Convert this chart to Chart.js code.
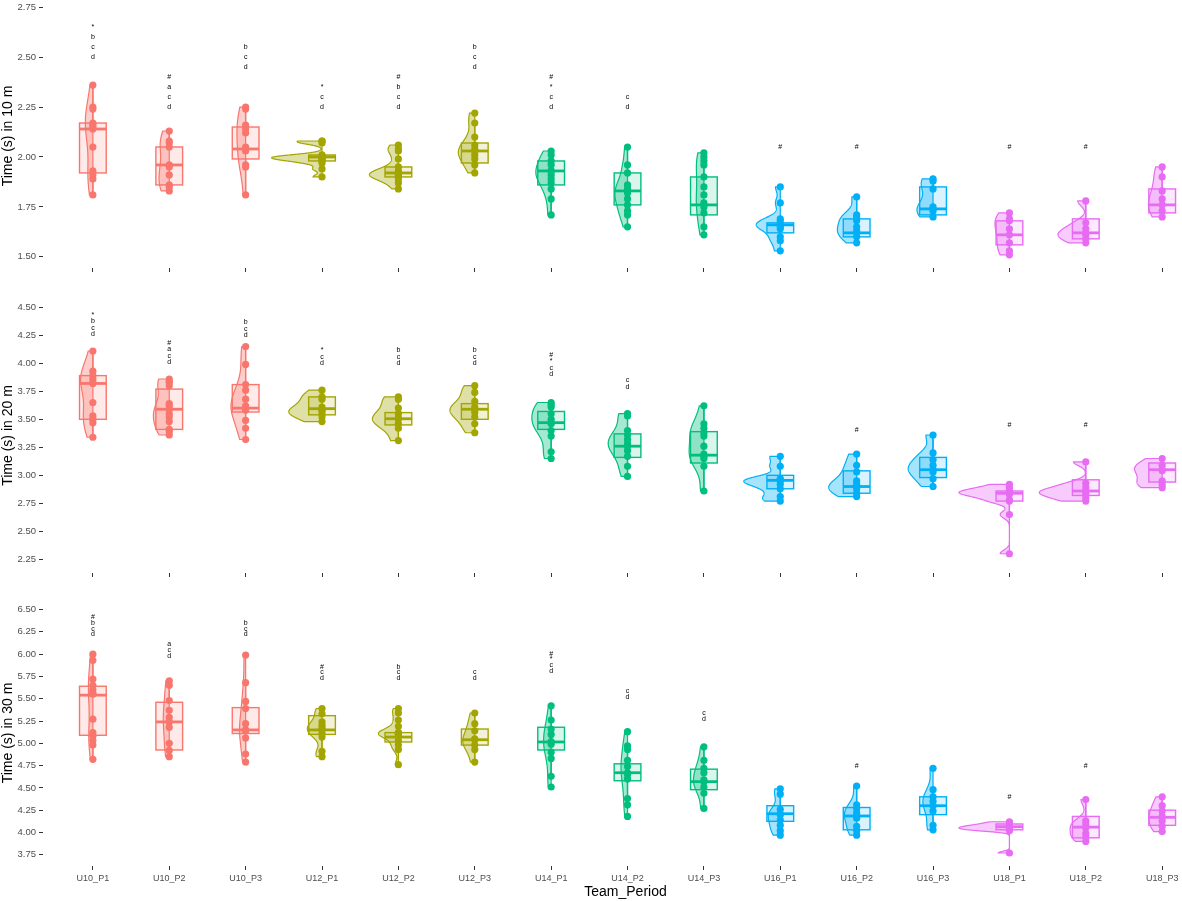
<!DOCTYPE html>
<html>
<head>
<meta charset="utf-8">
<title>Sprint times by team and period</title>
<script src="https://cdn.jsdelivr.net/npm/chart.js@4.4.1/dist/chart.umd.min.js"></script>
<style>
    html, body { margin: 0; padding: 0; background: #fff; }
    body { width: 1182px; height: 901px; overflow: hidden; position: relative; }
    .panel { position: absolute; left: 0; width: 1212px; }
</style>
</head>
<body>
<div class="panel" style="top:0;height:288px"><canvas id="chart10"></canvas></div>
<div class="panel" style="top:288px;height:302px"><canvas id="chart20"></canvas></div>
<div class="panel" style="top:590px;height:311px"><canvas id="chart30"></canvas></div>
<script>
// Categories and colours (one colour per team)
const categories = ['U10_P1', 'U10_P2', 'U10_P3', 'U12_P1', 'U12_P2', 'U12_P3', 'U14_P1', 'U14_P2', 'U14_P3',
    'U16_P1', 'U16_P2', 'U16_P3', 'U18_P1', 'U18_P2', 'U18_P3'];
const teamColors = ['#F8766D', '#A3A500', '#00BF7D', '#00B0F6', '#E76BF3'];

// 10 m times
const t10Points = [
    [2.36, 2.25, 2.24, 2.17, 2.16, 2.15, 2.14, 2.05, 1.93, 1.91, 1.89, 1.81],
    [2.13, 2.08, 2.07, 2.05, 1.96, 1.95, 1.91, 1.86, 1.85, 1.83],
    [2.25, 2.24, 2.16, 2.14, 2.12, 2.05, 2.03, 1.96, 1.95, 1.81],
    [2.08, 2.08, 2.07, 2.01, 2.00, 2.00, 2.00, 1.99, 1.99, 1.98, 1.97, 1.94, 1.90],
    [2.06, 2.04, 2.03, 1.99, 1.95, 1.93, 1.92, 1.92, 1.91, 1.91, 1.91, 1.90, 1.89, 1.87, 1.84],
    [2.22, 2.17, 2.10, 2.06, 2.04, 2.03, 2.01, 1.99, 1.96, 1.92],
    [2.03, 2.01, 1.98, 1.96, 1.93, 1.93, 1.91, 1.89, 1.87, 1.84, 1.79, 1.71],
    [2.05, 1.96, 1.92, 1.86, 1.84, 1.83, 1.82, 1.79, 1.76, 1.73, 1.71, 1.65],
    [2.02, 2.00, 1.98, 1.96, 1.90, 1.85, 1.81, 1.77, 1.75, 1.72, 1.65, 1.61],
    [1.85, 1.77, 1.69, 1.68, 1.66, 1.66, 1.65, 1.64, 1.60, 1.58, 1.53],
    [1.80, 1.71, 1.70, 1.68, 1.65, 1.63, 1.62, 1.60, 1.57],
    [1.89, 1.88, 1.84, 1.75, 1.74, 1.73, 1.70],
    [1.72, 1.69, 1.68, 1.64, 1.61, 1.57, 1.53, 1.51],
    [1.78, 1.67, 1.64, 1.62, 1.61, 1.59, 1.57],
    [1.95, 1.90, 1.83, 1.79, 1.76, 1.73, 1.70]
];
const t10Q1 = [1.92, 1.86, 1.99, 1.98, 1.90, 1.97, 1.86, 1.76, 1.71, 1.62, 1.60, 1.71, 1.56, 1.59, 1.72];
const t10Median = [2.14, 1.96, 2.04, 2.00, 1.92, 2.03, 1.93, 1.83, 1.76, 1.66, 1.62, 1.74, 1.61, 1.62, 1.76];
const t10Q3 = [2.17, 2.05, 2.15, 2.01, 1.95, 2.07, 1.98, 1.92, 1.90, 1.67, 1.69, 1.85, 1.68, 1.69, 1.84];
const t10Ticks = [1.50, 1.75, 2.00, 2.25, 2.50, 2.75];
const t10Marks = ['*bcd', '#acd', 'bcd', '*cd', '#bcd', 'bcd', '#*cd', 'cd', '', '#', '#', '', '#', '#', ''];
const t10MarkBase = [2.50, 2.25, 2.45, 2.25, 2.25, 2.45, 2.25, 2.25, null, 2.05, 2.05, null, 2.05, 2.05, null];

// 20 m times
const t20Points = [
    [4.11, 3.93, 3.89, 3.86, 3.83, 3.82, 3.65, 3.53, 3.50, 3.47, 3.34],
    [3.86, 3.84, 3.83, 3.80, 3.64, 3.62, 3.59, 3.55, 3.52, 3.48, 3.41, 3.39, 3.36],
    [4.15, 3.99, 3.81, 3.76, 3.68, 3.62, 3.60, 3.58, 3.49, 3.42, 3.32],
    [3.76, 3.70, 3.68, 3.61, 3.58, 3.58, 3.55, 3.52, 3.48],
    [3.70, 3.68, 3.60, 3.55, 3.51, 3.50, 3.46, 3.42, 3.31],
    [3.80, 3.74, 3.66, 3.61, 3.59, 3.56, 3.52, 3.46, 3.38],
    [3.65, 3.63, 3.61, 3.55, 3.50, 3.47, 3.46, 3.40, 3.35, 3.21, 3.15],
    [3.55, 3.53, 3.40, 3.36, 3.32, 3.28, 3.26, 3.22, 3.17, 3.08, 2.99],
    [3.62, 3.46, 3.42, 3.38, 3.35, 3.26, 3.19, 3.17, 3.15, 3.08, 2.86],
    [3.17, 3.08, 2.97, 2.96, 2.95, 2.92, 2.88, 2.81, 2.77],
    [3.19, 3.09, 3.03, 2.95, 2.92, 2.90, 2.88, 2.84, 2.81],
    [3.36, 3.20, 3.14, 3.09, 3.05, 3.03, 2.97, 2.90],
    [2.92, 2.89, 2.86, 2.85, 2.84, 2.84, 2.83, 2.78, 2.77, 2.65, 2.30],
    [3.12, 2.93, 2.89, 2.86, 2.85, 2.83, 2.80, 2.77],
    [3.15, 3.09, 3.05, 3.04, 2.95, 2.92, 2.89]
];
const t20Q1 = [3.50, 3.41, 3.565, 3.54, 3.45, 3.50, 3.41, 3.16, 3.11, 2.88, 2.84, 2.98, 2.77, 2.82, 2.94];
const t20Median = [3.82, 3.59, 3.60, 3.595, 3.505, 3.59, 3.47, 3.26, 3.18, 2.955, 2.90, 3.05, 2.84, 2.86, 3.05];
const t20Q3 = [3.89, 3.77, 3.81, 3.70, 3.56, 3.64, 3.57, 3.37, 3.39, 3.00, 3.04, 3.16, 2.86, 2.96, 3.11];
const t20Ticks = [2.25, 2.50, 2.75, 3.00, 3.25, 3.50, 3.75, 4.00, 4.25, 4.50];
const t20Marks = ['*bcd', '#acd', 'bcd', '*cd', 'bcd', 'bcd', '#*cd', 'cd', '', '', '#', '', '#', '#', ''];
const t20MarkBase = [4.26, 4.01, 4.25, 4.00, 4.00, 4.00, 3.90, 3.79, null, null, 3.40, null, 3.45, 3.45, null];

// 30 m times
const t30Points = [
    [6.00, 5.93, 5.72, 5.65, 5.60, 5.56, 5.55, 5.27, 5.12, 5.08, 5.03, 4.98, 4.82],
    [5.70, 5.65, 5.48, 5.37, 5.29, 5.24, 5.18, 5.00, 4.92, 4.85],
    [5.99, 5.68, 5.47, 5.39, 5.22, 5.15, 5.14, 5.06, 4.88, 4.79],
    [5.39, 5.33, 5.24, 5.20, 5.17, 5.15, 5.11, 5.07, 4.91, 4.85],
    [5.39, 5.34, 5.26, 5.19, 5.12, 5.12, 5.11, 5.11, 5.10, 5.10, 5.03, 4.98, 4.93, 4.76],
    [5.34, 5.22, 5.14, 5.05, 5.04, 4.98, 4.93, 4.79],
    [5.42, 5.26, 5.16, 5.10, 5.02, 4.99, 4.90, 4.83, 4.63, 4.51],
    [5.13, 4.97, 4.93, 4.81, 4.74, 4.67, 4.65, 4.60, 4.38, 4.31, 4.18],
    [4.96, 4.81, 4.72, 4.67, 4.59, 4.57, 4.51, 4.44, 4.27],
    [4.49, 4.43, 4.26, 4.21, 4.20, 4.14, 4.08, 4.02, 3.97],
    [4.52, 4.31, 4.27, 4.22, 4.18, 4.16, 4.07, 4.02, 3.97],
    [4.72, 4.48, 4.40, 4.35, 4.30, 4.24, 4.08, 4.03],
    [4.12, 4.10, 4.08, 4.07, 4.06, 4.05, 4.04, 4.03, 4.02, 3.77],
    [4.37, 4.13, 4.09, 4.05, 3.99, 3.95, 3.90],
    [4.40, 4.30, 4.24, 4.18, 4.13, 4.07, 4.01]
];
const t30Q1 = [5.09, 4.925, 5.11, 5.10, 5.015, 4.98, 4.925, 4.58, 4.48, 4.125, 4.03, 4.20, 4.03, 3.94, 4.08];
const t30Median = [5.54, 5.24, 5.15, 5.15, 5.07, 5.04, 5.015, 4.67, 4.57, 4.21, 4.185, 4.30, 4.065, 4.06, 4.17];
const t30Q3 = [5.64, 5.46, 5.40, 5.31, 5.12, 5.16, 5.18, 4.77, 4.71, 4.30, 4.28, 4.40, 4.095, 4.18, 4.25];
const t30Ticks = [3.75, 4.00, 4.25, 4.50, 4.75, 5.00, 5.25, 5.50, 5.75, 6.00, 6.25, 6.50];
const t30Marks = ['#bcd', 'acd', 'bcd', '#cd', 'bcd', 'cd', '#*cd', 'cd', 'cd', '', '#', '', '#', '#', ''];
const t30MarkBase = [6.22, 5.98, 6.22, 5.73, 5.73, 5.73, 5.81, 5.52, 5.27, null, 4.75, null, 4.40, 4.75, null];

const FONT = "'Liberation Sans', Arial, sans-serif";
Chart.defaults.font.family = FONT;

const colorOf = i => teamColors[Math.floor(i / 3)];
function rgba(hex, a) {
    const n = parseInt(hex.slice(1), 16);
    return `rgba(${(n >> 16) & 255}, ${(n >> 8) & 255}, ${n & 255}, ${a})`;
}

// type 7 quantile, same as R's default
function quantile(sorted, p) {
    const h = (sorted.length - 1) * p;
    const lo = Math.floor(h);
    const hi = Math.min(lo + 1, sorted.length - 1);
    return sorted[lo] + (h - lo) * (sorted[hi] - sorted[lo]);
}

// gaussian kernel density, bw.nrd0, trimmed to the data range
function density(values) {
    const s = [...values].sort((a, b) => a - b);
    const n = s.length;
    const mean = s.reduce((a, b) => a + b, 0) / n;
    const sd = Math.sqrt(s.reduce((a, v) => a + (v - mean) ** 2, 0) / (n - 1));
    let spread = Math.min(sd, (quantile(s, 0.75) - quantile(s, 0.25)) / 1.34);
    if (!spread) spread = sd || 1;
    const bw = 0.9 * spread * Math.pow(n, -0.2);
    const out = [];
    for (let k = 0; k < 240; k++) {
        const v = s[0] + (s[n - 1] - s[0]) * k / 239;
        let f = 0;
        s.forEach(xi => {
            const z = (v - xi) / bw;
            f += Math.exp(-0.5 * z * z);
        });
        out.push([v, f / (n * bw * Math.sqrt(2 * Math.PI))]);
    }
    return out;
}

const VIOLIN_WIDTH = 0.66;
const BOX_HALF = 0.175;

// half violins, boxes and letter marks drawn through the chart scales
const raincloud = {
    id: 'raincloud',
    beforeDatasetsDraw(chart, args, opts) {
        const { ctx, chartArea, scales: { x, y } } = chart;
        const curves = opts.points.map(density);
        const peak = Math.max(...curves.map(c => Math.max(...c.map(p => p[1]))));
        ctx.save();
        ctx.beginPath();
        ctx.rect(chartArea.left, chartArea.top, chartArea.width, chartArea.height);
        ctx.clip();
        curves.forEach((curve, i) => {
            const col = colorOf(i);
            ctx.beginPath();
            ctx.moveTo(x.getPixelForValue(i), y.getPixelForValue(curve[0][0]));
            curve.forEach(([v, f]) => {
                ctx.lineTo(x.getPixelForValue(i - VIOLIN_WIDTH * f / peak), y.getPixelForValue(v));
            });
            ctx.lineTo(x.getPixelForValue(i), y.getPixelForValue(curve[curve.length - 1][0]));
            ctx.closePath();
            ctx.fillStyle = rgba(col, 0.35);
            ctx.fill();
            ctx.strokeStyle = col;
            ctx.lineWidth = 1.2;
            ctx.stroke();
        });
        ctx.restore();
    },
    afterDatasetsDraw(chart, args, opts) {
        const { ctx, scales: { x, y } } = chart;
        ctx.save();
        opts.points.forEach((pts, i) => {
            const col = colorOf(i);
            const q1 = opts.q1[i], q3 = opts.q3[i], iqr = q3 - q1;
            const inside = pts.filter(v => v >= q1 - 1.5 * iqr && v <= q3 + 1.5 * iqr);
            const cx = x.getPixelForValue(i);
            const left = x.getPixelForValue(i - BOX_HALF);
            const right = x.getPixelForValue(i + BOX_HALF);
            const top = y.getPixelForValue(q3);
            const bottom = y.getPixelForValue(q1);
            ctx.strokeStyle = col;
            ctx.lineWidth = 1.4;
            ctx.beginPath();
            ctx.moveTo(cx, top);
            ctx.lineTo(cx, y.getPixelForValue(Math.max(...inside)));
            ctx.moveTo(cx, bottom);
            ctx.lineTo(cx, y.getPixelForValue(Math.min(...inside)));
            ctx.stroke();
            ctx.fillStyle = rgba(col, 0.15);
            ctx.fillRect(left, top, right - left, bottom - top);
            ctx.strokeRect(left, top, right - left, bottom - top);
            ctx.lineWidth = 2.8;
            ctx.beginPath();
            ctx.moveTo(left, y.getPixelForValue(opts.median[i]));
            ctx.lineTo(right, y.getPixelForValue(opts.median[i]));
            ctx.stroke();
        });

        // significance letters, one symbol per line
        ctx.fillStyle = '#000';
        ctx.font = `7px ${FONT}`;
        ctx.textAlign = 'center';
        ctx.textBaseline = 'middle';
        opts.marks.forEach((mark, i) => {
            if (!mark) return;
            const chars = mark.split('');
            chars.forEach((ch, k) => {
                const v = opts.markBase[i] + (chars.length - 1 - k) * opts.markStep;
                ctx.fillText(ch, x.getPixelForValue(i), y.getPixelForValue(v));
            });
        });
        ctx.restore();
    }
};

const panels = [
    { id: 'chart10', title: 'Time (s) in 10 m', points: t10Points, q1: t10Q1, median: t10Median, q3: t10Q3,
      ticks: t10Ticks, marks: t10Marks, markBase: t10MarkBase, markStep: 0.05,
      min: 1.444, max: 2.766, padTop: 0, xHeight: 20, showX: false },
    { id: 'chart20', title: 'Time (s) in 20 m', points: t20Points, q1: t20Q1, median: t20Median, q3: t20Q3,
      ticks: t20Ticks, marks: t20Marks, markBase: t20MarkBase, markStep: 0.058,
      min: 2.128, max: 4.583, padTop: 10, xHeight: 17, showX: false },
    { id: 'chart30', title: 'Time (s) in 30 m', points: t30Points, q1: t30Q1, median: t30Median, q3: t30Q3,
      ticks: t30Ticks, marks: t30Marks, markBase: t30MarkBase, markStep: 0.065,
      min: 3.624, max: 6.607, padTop: 10, xHeight: 35, showX: true }
];

const tickGrid = { drawOnChartArea: false, drawTicks: true, tickLength: 4, color: '#333333', lineWidth: 1 };

panels.forEach(p => {
    new Chart(document.getElementById(p.id), {
        type: 'scatter',
        data: {
            datasets: categories.map((c, i) => ({
                label: c,
                data: p.points[i].map(v => ({ x: i, y: v })),
                backgroundColor: colorOf(i),
                borderWidth: 0,
                pointRadius: 3.6
            }))
        },
        options: {
            responsive: true,
            maintainAspectRatio: false,
            animation: false,
            events: [],
            layout: { padding: { top: p.padTop, right: 1, left: 0, bottom: 0 } },
            plugins: {
                legend: { display: false },
                tooltip: { enabled: false },
                raincloud: {
                    points: p.points, q1: p.q1, median: p.median, q3: p.q3,
                    marks: p.marks, markBase: p.markBase, markStep: p.markStep
                }
            },
            scales: {
                x: {
                    type: 'linear',
                    min: -0.653,
                    max: 14.6,
                    afterBuildTicks: s => { s.ticks = categories.map((c, i) => ({ value: i })); },
                    afterFit: s => { s.height = p.xHeight; s.paddingLeft = 0; s.paddingRight = 0; },
                    grid: tickGrid,
                    border: { display: false },
                    ticks: {
                        autoSkip: false,
                        maxRotation: 0,
                        padding: 3,
                        color: '#4D4D4D',
                        font: { size: 9 },
                        callback: v => (p.showX ? categories[v] : '')
                    },
                    title: {
                        display: p.showX,
                        text: 'Team_Period',
                        color: '#000',
                        font: { size: 14 },
                        padding: { top: 0, bottom: 0 }
                    }
                },
                y: {
                    min: p.min,
                    max: p.max,
                    afterBuildTicks: s => { s.ticks = p.ticks.map(v => ({ value: v })); },
                    afterFit: s => { s.width = 43; s.paddingTop = 0; s.paddingBottom = 0; },
                    grid: tickGrid,
                    border: { display: false },
                    ticks: {
                        padding: 3,
                        color: '#4D4D4D',
                        font: { size: 9.5 },
                        callback: v => v.toFixed(2)
                    },
                    title: {
                        display: true,
                        text: p.title,
                        color: '#000',
                        font: { size: 14 },
                        padding: { top: 0, bottom: 0 }
                    }
                }
            }
        },
        plugins: [raincloud]
    });
});
</script>
</body>
</html>
